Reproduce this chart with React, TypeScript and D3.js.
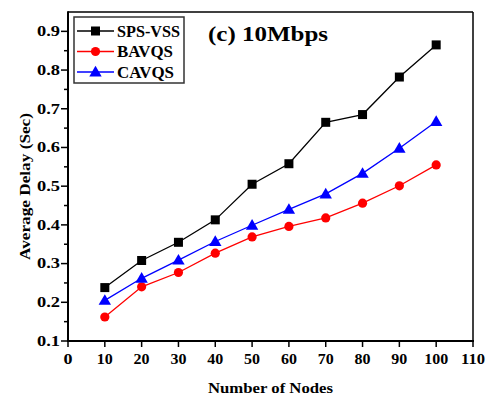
import React from "react";
import * as d3 from "d3";

const nodes = [10, 20, 30, 40, 50, 60, 70, 80, 90, 100];
const spsVss = [0.238, 0.308, 0.355, 0.413, 0.505, 0.558, 0.665, 0.685, 0.782, 0.865];
const bavqs = [0.162, 0.24, 0.277, 0.327, 0.369, 0.396, 0.418, 0.456, 0.501, 0.555];
const cavqs = [0.205, 0.262, 0.309, 0.357, 0.399, 0.44, 0.48, 0.533, 0.598, 0.667];
const xTicks = [0, 10, 20, 30, 40, 50, 60, 70, 80, 90, 100, 110];
const yTicks = [0.1, 0.2, 0.3, 0.4, 0.5, 0.6, 0.7, 0.8, 0.9];
const yMinor = [0.15, 0.25, 0.35, 0.45, 0.55, 0.65, 0.75, 0.85];
const seriesNames = ["SPS-VSS", "BAVQS", "CAVQS"];
const seriesColors = ["#000000", "#ff0000", "#0000ff"];
const seriesShapes = ["square", "circle", "triangle"];

const W = 492, H = 397;
const L = 68, R = 473, T = 12, B = 341;
const FONT = "'Liberation Serif', 'Times New Roman', serif";

function Marker({ shape, x, y, color }: { shape: string; x: number; y: number; color: string }) {
  if (shape === "square") return <rect x={x - 4.5} y={y - 4.5} width={9} height={9} fill={color} />;
  if (shape === "circle") return <circle cx={x} cy={y} r={4.6} fill={color} />;
  const s = 6.2;
  return <path d={`M${x},${y - s}L${x + s},${y + s * 0.72}L${x - s},${y + s * 0.72}Z`} fill={color} />;
}

export default function App() {
  const x = d3.scaleLinear().domain([0, 110]).range([L, R]);
  const y = d3.scaleLinear().domain([0.1, 0.95]).range([B, T]);
  const data = [spsVss, bavqs, cavqs];
  const line = d3.line<number>().x((_, i) => x(nodes[i])).y((d) => y(d));
  const legendLen = [63, 56, 57];

  return (
    <svg width={W} height={H} style={{ position: "absolute", left: 0, top: 0, background: "#fff" }}>
      <rect x={0} y={0} width={W} height={H} fill="#fff" />
      {/* frame */}
      <line x1={L} x2={R} y1={T} y2={T} stroke="#000" strokeWidth={1.5} />
      <line x1={R} x2={R} y1={T} y2={B} stroke="#000" strokeWidth={1.5} />
      <line x1={L} x2={L} y1={T - 0.75} y2={B + 1} stroke="#000" strokeWidth={2} />
      <line x1={L - 1} x2={R + 1} y1={B} y2={B} stroke="#000" strokeWidth={2} />
      {/* y ticks */}
      {yTicks.map((t) => (
        <g key={"y" + t}>
          <line x1={L - 7} x2={L} y1={y(t)} y2={y(t)} stroke="#000" strokeWidth={1.5} />
          <text
            x={L - 31}
            y={y(t)}
            dy="0.35em"
            textLength={23}
            lengthAdjust="spacingAndGlyphs"
            fontFamily={FONT}
            fontWeight="bold"
            fontSize={14}
          >
            {t.toFixed(1)}
          </text>
        </g>
      ))}
      {yMinor.map((t) => (
        <line key={"ym" + t} x1={L - 4} x2={L} y1={y(t)} y2={y(t)} stroke="#000" strokeWidth={1.5} />
      ))}
      {/* x ticks */}
      {xTicks.map((t) => {
        const len = String(t).length === 1 ? 9 : String(t).length === 2 ? 16 : 24;
        return (
          <g key={"x" + t}>
            <line x1={x(t)} x2={x(t)} y1={B} y2={B + 6} stroke="#000" strokeWidth={1.5} />
            <text
              x={x(t) - len / 2}
              y={364}
              textLength={len}
              lengthAdjust="spacingAndGlyphs"
              fontFamily={FONT}
              fontWeight="bold"
              fontSize={15}
            >
              {t}
            </text>
          </g>
        );
      })}
      {/* axis titles */}
      <text
        x={208}
        y={393}
        textLength={125}
        lengthAdjust="spacingAndGlyphs"
        fontFamily={FONT}
        fontWeight="bold"
        fontSize={14.5}
      >
        Number of Nodes
      </text>
      <text
        transform={`translate(30,260) rotate(-90)`}
        textLength={147}
        lengthAdjust="spacingAndGlyphs"
        fontFamily={FONT}
        fontWeight="bold"
        fontSize={14.5}
      >
        Average Delay (Sec)
      </text>
      {/* series */}
      {data.map((vals, si) => (
        <g key={"s" + si}>
          <path d={line(vals) || ""} fill="none" stroke={seriesColors[si]} strokeWidth={1.3} />
          {vals.map((v, i) => (
            <Marker key={i} shape={seriesShapes[si]} x={x(nodes[i])} y={y(v)} color={seriesColors[si]} />
          ))}
        </g>
      ))}
      {/* title */}
      <text
        x={208}
        y={41}
        textLength={120}
        lengthAdjust="spacingAndGlyphs"
        fontFamily={FONT}
        fontWeight="bold"
        fontSize={21}
      >
        (c) 10Mbps
      </text>
      {/* legend */}
      <rect x={74} y={17} width={110} height={66} fill="#fff" stroke="#333" strokeWidth={1.5} />
      {seriesNames.map((n, i) => {
        const ly = 31 + i * 20.5;
        return (
          <g key={"l" + n}>
            <line x1={77} x2={114} y1={ly} y2={ly} stroke={seriesColors[i]} strokeWidth={1.3} />
            <Marker shape={seriesShapes[i]} x={95.5} y={ly} color={seriesColors[i]} />
            <text
              x={117}
              y={ly}
              dy="0.36em"
              textLength={legendLen[i]}
              lengthAdjust="spacingAndGlyphs"
              fontFamily={FONT}
              fontWeight="bold"
              fontSize={16}
            >
              {n}
            </text>
          </g>
        );
      })}
    </svg>
  );
}
